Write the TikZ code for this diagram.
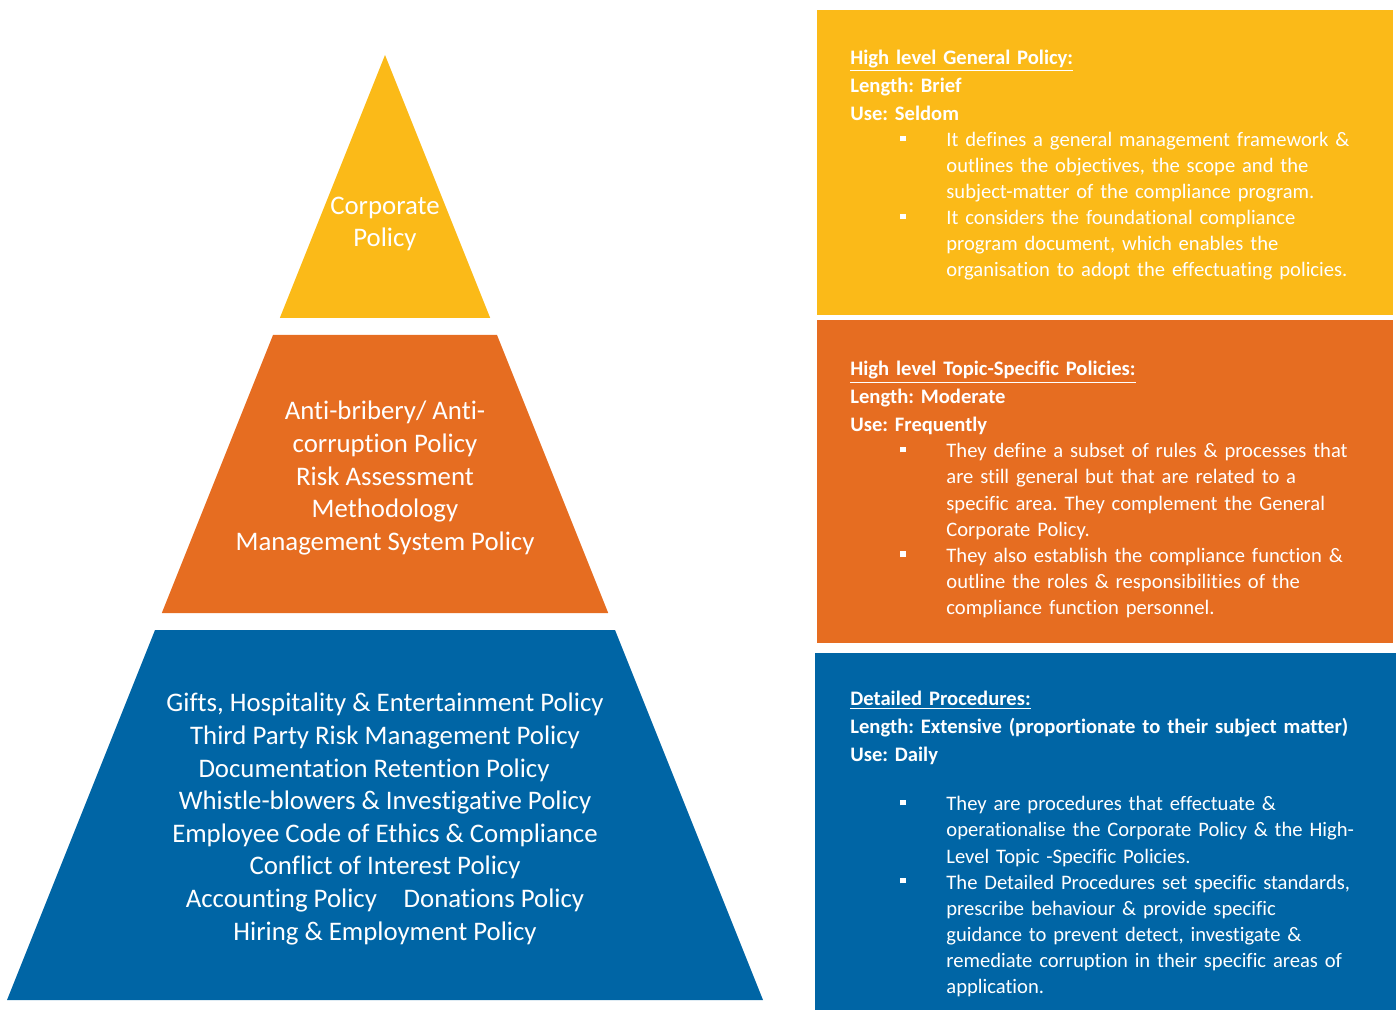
\documentclass[tikz,border=0pt]{standalone}
\usepackage{fontspec}
\setmainfont{Carlito}[Ligatures=NoCommon]
\definecolor{polyellow}{HTML}{FBBA18}
\definecolor{polorange}{HTML}{E66D21}
\definecolor{polblue}{HTML}{0065A5}
\newcommand{\bul}{\par\hangindent=48pt\hangafter=1\noindent\makebox[48pt][l]{\hspace{25pt}\rule[2.8pt]{2.6pt}{2.6pt}}}
\newcommand{\boxhead}[3]{{\fontsize{10.3}{14}\selectfont\noindent\underline{\textbf{#1}}\newline\textbf{Length: #2}\newline\textbf{Use: #3}\par}}

\begin{document}
\begin{tikzpicture}[x=0.5pt,y=-0.5pt,
  pyrtext/.style={text=white,align=center,inner sep=0,font=\fontsize{13.4}{16.3}\selectfont\frenchspacing},
  boxtext/.style={text=white,anchor=north west,inner sep=0,text width=270pt,font=\fontsize{10.3}{13.03}\selectfont\frenchspacing}]
\useasboundingbox (0,0) rectangle (1398,1010);

\fill[polyellow] (385,55) -- (490.2,318) -- (279.8,318) -- cycle;
\fill[polorange] (273,335) -- (497,335) -- (608.2,613) -- (161.8,613) -- cycle;
\fill[polblue] (155,630) -- (615,630) -- (763,1000) -- (7,1000) -- cycle;

\node[pyrtext] (corp) at (385,224) {Corporate\\Policy};
\node[pyrtext] (topic) at (385,478) {Anti-bribery/ Anti-\\corruption Policy\\Risk Assessment\\Methodology\\Management System Policy};
\node[pyrtext] (proc) at (385,819) {Gifts, Hospitality \& Entertainment Policy\\Third Party Risk Management Policy\\Documentation Retention Policy\hspace*{11pt}\mbox{}\\Whistle-blowers \& Investigative Policy\\Employee Code of Ethics \& Compliance\\Conflict of Interest Policy\\Accounting Policy\quad Donations Policy\\Hiring \& Employment Policy};

\fill[polyellow] (817,10) rectangle (1393,315);
\fill[polorange] (817,320) rectangle (1393,643);
\fill[polblue] (815,653) rectangle (1396,1010);

\node[boxtext] (corpinfo) at (850,49.5) {\boxhead{High level General Policy:}{Brief}{Seldom}
\bul It defines a general management framework \&\newline outlines the objectives, the scope and the\newline subject-matter of the compliance program.
\bul It considers the foundational compliance\newline program document, which enables the\newline organisation to adopt the effectuating policies.\par};
\node[boxtext] (topicinfo) at (850,361) {\boxhead{High level Topic-Specific Policies:}{Moderate}{Frequently}
\bul They define a subset of rules \& processes that\newline are still general but that are related to a\newline specific area. They complement the General\newline Corporate Policy.
\bul They also establish the compliance function \&\newline outline the roles \& responsibilities of the\newline compliance function personnel.\par};
\node[boxtext] (procinfo) at (850,691) {\boxhead{Detailed Procedures:}{Extensive (proportionate to their subject matter)}{Daily}\vspace{11.5pt}
\bul They are procedures that effectuate \&\newline operationalise the Corporate Policy \& the High-\newline Level Topic -Specific Policies.
\bul The Detailed Procedures set specific standards,\newline prescribe behaviour \& provide specific\newline guidance to prevent detect, investigate \&\newline remediate corruption in their specific areas of\newline application.\par};
\end{tikzpicture}
\end{document}
